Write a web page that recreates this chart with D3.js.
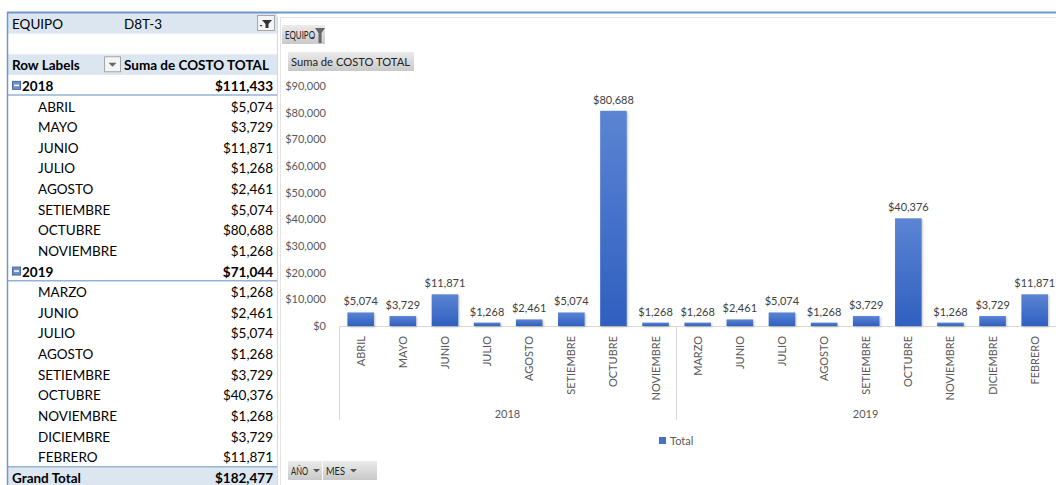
<!DOCTYPE html>
<html>
<head>
  <meta charset="UTF-8">
  <title>EQUIPO D8T-3 - Suma de COSTO TOTAL</title>
  <style>
    body { margin: 0; background: #fff; }
    svg { display: block; font-family: Lato, "Open Sans", sans-serif; }
    .cell { font-size: 13.5px; fill: #000; }
    .bold { font-weight: bold; }
    .tick { font-size: 11px; fill: #595959; }
    .dlabel { font-size: 11px; fill: #404040; }
    .btn text { font-size: 12px; fill: #222; }
  </style>
</head>
<body>
  <svg></svg>
  <script src="https://d3js.org/d3.v7.min.js"></script>
  <script>
    let years = ["2018", "2019"];
    let months2018 = ["ABRIL", "MAYO", "JUNIO", "JULIO", "AGOSTO", "SETIEMBRE", "OCTUBRE", "NOVIEMBRE"];
    let values2018 = [5074, 3729, 11871, 1268, 2461, 5074, 80688, 1268];
    let months2019 = ["MARZO", "JUNIO", "JULIO", "AGOSTO", "SETIEMBRE", "OCTUBRE", "NOVIEMBRE", "DICIEMBRE", "FEBRERO"];
    let values2019 = [1268, 2461, 5074, 1268, 3729, 40376, 1268, 3729, 11871];
    let yTicks = [0, 10000, 20000, 30000, 40000, 50000, 60000, 70000, 80000, 90000];

    let width = 1056, height = 485;
    let svg = d3.select("svg").attr("width", width).attr("height", height);
    let money = d3.format("$,.0f");

    let defs = svg.append("defs");
    let bg = defs.append("linearGradient").attr("id", "barGrad").attr("x1", 0).attr("y1", 0).attr("x2", 0).attr("y2", 1);
    bg.append("stop").attr("offset", "0%").attr("stop-color", "#5b84d3");
    bg.append("stop").attr("offset", "100%").attr("stop-color", "#2f5fc0");
    let btnG = defs.append("linearGradient").attr("id", "btnGrad").attr("x1", 0).attr("y1", 0).attr("x2", 0).attr("y2", 1);
    btnG.append("stop").attr("offset", "0%").attr("stop-color", "#ebebeb");
    btnG.append("stop").attr("offset", "100%").attr("stop-color", "#c9c9c9");

    // ---------- pivot table ----------
    let groups = [
      { year: years[0], months: months2018, values: values2018 },
      { year: years[1], months: months2019, values: values2019 }
    ];
    let rows = [
      { kind: "filter" }, { kind: "blank" }, { kind: "header" }
    ];
    groups.forEach(g => {
      rows.push({ kind: "year", label: g.year, value: d3.sum(g.values) });
      g.months.forEach((m, i) => rows.push({ kind: "month", label: m, value: g.values[i] }));
    });
    rows.push({ kind: "total", label: "Grand Total", value: d3.sum(groups, g => d3.sum(g.values)) });

    let tableLeft = 7, tableRight = 277;
    let rowY = d3.scaleBand().domain(d3.range(rows.length)).range([13, 13 + rows.length * 20.63]);
    let table = svg.append("g");

    let rowG = table.selectAll("g.row").data(rows).enter().append("g")
      .attr("transform", (d, i) => `translate(0,${rowY(i)})`);
    rowG.filter(d => d.kind == "filter" || d.kind == "header" || d.kind == "total")
      .append("rect").attr("x", tableLeft).attr("width", tableRight - tableLeft)
      .attr("height", rowY.bandwidth()).attr("fill", "#dce6f1");

    let baseline = 16;
    rowG.filter(d => d.kind == "filter").each(function() {
      let g = d3.select(this);
      g.append("text").attr("class", "cell").attr("x", 12).attr("y", baseline).text("EQUIPO");
      g.append("text").attr("class", "cell").attr("x", 124).attr("y", baseline).text("D8T-3");
      g.append("rect").attr("x", 257.5).attr("y", 2.5).attr("width", 17).attr("height", 15)
        .attr("fill", "#f4f4f4").attr("stroke", "#a6a6a6");
      g.append("path").attr("d", "M262,7 h10 l-3.5,4 v4 h-3 v-4 z").attr("fill", "#333");
      g.append("path").attr("d", "M259.5,12 h3 l-1.5,1.8 z").attr("fill", "#333");
    });
    rowG.filter(d => d.kind == "header").each(function() {
      let g = d3.select(this);
      g.append("text").attr("class", "cell bold").attr("x", 12).attr("y", baseline).text("Row Labels");
      g.append("rect").attr("x", 104.5).attr("y", 2.5).attr("width", 16).attr("height", 15)
        .attr("fill", "#f4f4f4").attr("stroke", "#a6a6a6");
      g.append("path").attr("d", "M108.5,8.5 h8 l-4,4 z").attr("fill", "#666");
      g.append("text").attr("class", "cell bold").attr("x", 124).attr("y", baseline).text("Suma de COSTO TOTAL");
    });
    rowG.filter(d => d.kind == "year" || d.kind == "total").each(function(d) {
      let g = d3.select(this);
      if (d.kind == "year") {
        g.append("rect").attr("x", 12.5).attr("y", 6.5).attr("width", 8).attr("height", 8)
          .attr("fill", "#6f8fc8").attr("stroke", "#4a6aa5");
        g.append("line").attr("x1", 14).attr("x2", 19).attr("y1", 10.5).attr("y2", 10.5)
          .attr("stroke", "#fff").attr("stroke-width", 1.5);
        g.append("line").attr("x1", tableLeft).attr("x2", tableRight)
          .attr("y1", rowY.bandwidth() - 0.5).attr("y2", rowY.bandwidth() - 0.5)
          .attr("stroke", "#95b3d7").attr("stroke-width", 1.5);
      } else {
        g.append("line").attr("x1", tableLeft).attr("x2", tableRight).attr("y1", 0).attr("y2", 0)
          .attr("stroke", "#95b3d7").attr("stroke-width", 1.5);
      }
      g.append("text").attr("class", "cell bold").attr("x", d.kind == "year" ? 22 : 12).attr("y", baseline).text(d.label);
      g.append("text").attr("class", "cell bold").attr("x", 273).attr("y", baseline)
        .attr("text-anchor", "end").text(money(d.value));
    });
    rowG.filter(d => d.kind == "month").each(function(d) {
      let g = d3.select(this);
      g.append("text").attr("class", "cell").attr("x", 38).attr("y", baseline).text(d.label);
      g.append("text").attr("class", "cell").attr("x", 273).attr("y", baseline)
        .attr("text-anchor", "end").text(money(d.value));
    });
    // table frame
    table.append("line").attr("x1", tableLeft).attr("x2", width).attr("y1", 12.5).attr("y2", 12.5)
      .attr("stroke", "#6f97cf").attr("stroke-width", 2);
    table.append("line").attr("x1", tableLeft + 0.5).attr("x2", tableLeft + 0.5).attr("y1", 12).attr("y2", height)
      .attr("stroke", "#6f97cf").attr("stroke-width", 1.5);
    table.append("line").attr("x1", tableRight + 0.5).attr("x2", tableRight + 0.5).attr("y1", 17).attr("y2", height)
      .attr("stroke", "#d9d9d9");
    // chart frame
    svg.append("line").attr("x1", 280.5).attr("x2", 280.5).attr("y1", 17).attr("y2", height)
      .attr("stroke", "#e3e3e3");
    svg.append("line").attr("x1", 280).attr("x2", width).attr("y1", 17.5).attr("y2", 17.5)
      .attr("stroke", "#e3e3e3");

    // ---------- chart ----------
    let bars = [];
    groups.forEach(g => g.months.forEach((m, i) => bars.push({ key: g.year + "|" + m, year: g.year, month: m, value: g.values[i] })));

    let x = d3.scaleBand().domain(bars.map(d => d.key)).range([339, 339 + bars.length * 42.2]).paddingInner(0.37).paddingOuter(0.2);
    let y = d3.scaleLinear().domain([0, 90000]).range([326, 86]);

    let chart = svg.append("g");
    // y axis labels
    chart.selectAll("text.ytick").data(yTicks).enter().append("text")
      .attr("class", "tick").attr("x", 326).attr("y", d => y(d) + 4).attr("text-anchor", "end")
      .text(d => money(d));

    // category axis line
    chart.append("line").attr("x1", x.range()[0]).attr("x2", width).attr("y1", y(0) + 0.5).attr("y2", y(0) + 0.5)
      .attr("stroke", "#d9d9d9");

    // bars
    chart.selectAll("rect.bar").data(bars).enter().append("rect")
      .attr("x", d => x(d.key)).attr("y", d => y(d.value))
      .attr("width", x.bandwidth()).attr("height", d => y(0) - y(d.value))
      .attr("fill", "url(#barGrad)")
      .style("filter", "drop-shadow(1px 1px 1px rgba(0,0,0,0.25))");

    // data labels
    chart.selectAll("text.dlabel").data(bars).enter().append("text")
      .attr("class", "dlabel").attr("x", d => x(d.key) + x.bandwidth() / 2).attr("y", d => y(d.value) - 7)
      .attr("text-anchor", "middle").text(d => money(d.value));

    // month labels (rotated)
    chart.selectAll("text.month").data(bars).enter().append("text")
      .attr("class", "tick")
      .attr("transform", d => `translate(${x(d.key) + x.bandwidth() / 2 + 4},336) rotate(-90)`)
      .attr("text-anchor", "end").text(d => d.month);

    // year groups
    let step = x.step();
    let start = 0;
    groups.forEach(g => {
      let x0 = x.range()[0] + start * step;
      let x1 = x0 + g.months.length * step;
      chart.append("line").attr("x1", Math.round(x0) + 0.5).attr("x2", Math.round(x0) + 0.5)
        .attr("y1", y(0)).attr("y2", 420).attr("stroke", "#d9d9d9");
      chart.append("text").attr("class", "tick").attr("x", (x0 + x1) / 2).attr("y", 418)
        .attr("text-anchor", "middle").text(g.year);
      start += g.months.length;
    });

    // legend
    let legend = chart.append("g").attr("transform", "translate(659,437)");
    legend.append("rect").attr("width", 7).attr("height", 7).attr("fill", "#4472c4");
    legend.append("text").attr("class", "tick").attr("x", 11).attr("y", 8).text("Total");

    // field buttons
    function button(bx, by, bw, label, textLen, arrow) {
      let b = svg.append("g").attr("class", "btn").attr("transform", `translate(${bx},${by})`);
      b.append("rect").attr("width", bw).attr("height", 19).attr("fill", "url(#btnGrad)");
      b.append("text").attr("x", 3).attr("y", 14)
        .attr("textLength", textLen).attr("lengthAdjust", "spacingAndGlyphs").text(label);
      if (arrow) {
        let ax = 3 + textLen + 5;
        b.append("path").attr("d", `M${ax},8 h7 l-3.5,3.5 z`).attr("fill", "#555");
      }
      return b;
    }
    let eq = button(282, 25, 43, "EQUIPO", 30, false);
    eq.append("path").attr("d", "M33,3 h10 l-3.5,5 v10 h-3 v-10 z").attr("fill", "#666");
    eq.append("path").attr("d", "M29,12 h4 l-2,2.5 z").attr("fill", "#444");
    button(288, 52, 126, "Suma de COSTO TOTAL", 119, false);
    button(288, 461, 34, "AÑO", 17, true);
    button(323, 461, 54, "MES", 19, true);
  </script>
</body>
</html>
